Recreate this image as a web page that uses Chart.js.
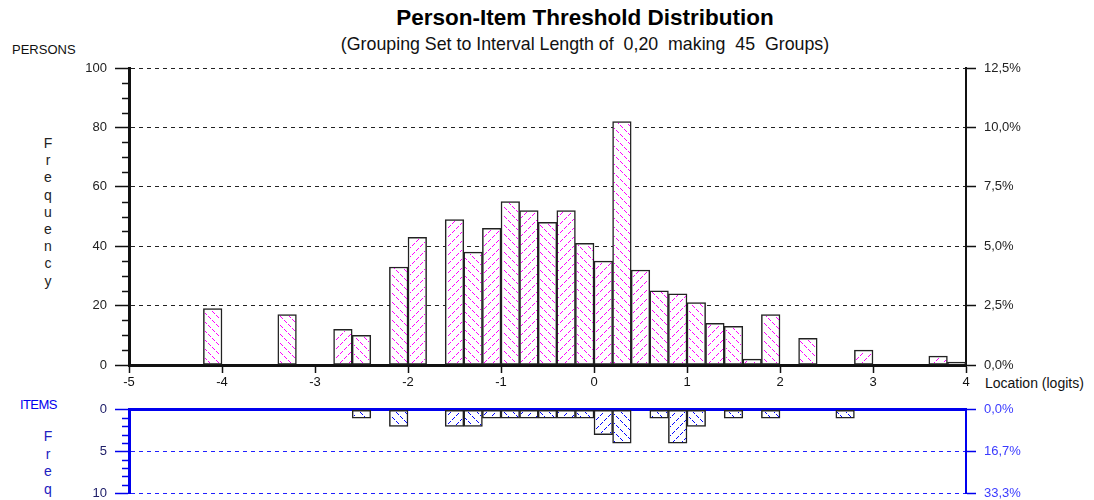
<!DOCTYPE html>
<html>
<head>
<meta charset="utf-8">
<script src="https://cdn.jsdelivr.net/npm/chart.js@4.4.1/dist/chart.umd.min.js"></script>
<style>
  body { margin: 0; width: 1094px; height: 500px; overflow: hidden; position: relative; background: #fff;
         font-family: 'Liberation Sans', Arial, sans-serif; }
  .lbl { position: absolute; white-space: pre; }
  canvas { position: absolute; left: 0; }
</style>
</head>
<body>
<div class="lbl" style="left:185px;width:800px;text-align:center;top:5px;font-weight:bold;font-size:22.5px;color:#000">Person-Item Threshold Distribution</div>
<div class="lbl" style="left:185px;width:800px;text-align:center;top:34px;font-size:17.8px;color:#111">(Grouping Set to Interval Length of  0,20  making  45  Groups)</div>
<div class="lbl" style="left:12px;top:42px;font-size:13px;color:#111">PERSONS</div>
<div class="lbl" style="left:40px;width:16px;text-align:center;top:135px;font-size:14px;line-height:17.2px;color:#222">F<br>r<br>e<br>q<br>u<br>e<br>n<br>c<br>y</div>
<div class="lbl" style="left:985px;top:375px;font-size:14px;color:#111">Location (logits)</div>
<div class="lbl" style="left:20px;top:397px;font-size:13px;color:#0000ee;letter-spacing:-0.6px">ITEMS</div>
<div class="lbl" style="left:40px;width:16px;text-align:center;top:428px;font-size:14px;line-height:17.5px;color:#2020c0">F<br>r<br>e<br>q</div>

<canvas id="persons" width="1094" height="400" style="top:0"></canvas>
<canvas id="items" width="1094" height="115" style="top:394px"></canvas>

<script>
// 45 groups of 0.2 logits, labelled by lower bound
const binStarts = ['-5.0','-4.8','-4.6','-4.4','-4.2','-4.0','-3.8','-3.6','-3.4','-3.2',
                   '-3.0','-2.8','-2.6','-2.4','-2.2','-2.0','-1.8','-1.6','-1.4','-1.2',
                   '-1.0','-0.8','-0.6','-0.4','-0.2','0.0','0.2','0.4','0.6','0.8',
                   '1.0','1.2','1.4','1.6','1.8','2.0','2.2','2.4','2.6','2.8',
                   '3.0','3.2','3.4','3.6','3.8'];

const personsFreq = [0,0,0,0,19,0,0,0,17,0, 0,12,10,0,33,43,0,49,38,46,
                     55,52,48,52,41,35,82,32,25,24, 21,14,13,2,17,0,9,0,0,5,
                     0,0,0,3,1];
const itemsFreq = [0,0,0,0,0,0,0,0,0,0, 0,0,1,0,2,0,0,2,2,1,
                   1,1,1,1,1,3,4,0,1,4, 2,0,1,0,1,0,0,0,1,0,
                   0,0,0,0,0];

const personsTotal = 800;
const itemsTotal = 30;
const logitTicks = [-5, -4, -3, -2, -1, 0, 1, 2, 3, 4];
const personsMinor = [5,10,15,25,30,35,45,50,55,65,70,75,85,90,95];
const itemsMinor = [1,2,3,4,6,7,8,9];

Chart.defaults.font.family = "'Liberation Sans', Arial, sans-serif";
Chart.defaults.font.size = 13;
Chart.defaults.animation = false;

const pct = v => v.toFixed(1).replace('.', ',') + '%';

// short minor tick marks on the left axis
const minorTicks = {
    id: 'minorTicks',
    afterDraw(chart, args, opts) {
        const sc = chart.scales.y;
        const ctx = chart.ctx;
        const x = chart.chartArea.left;
        ctx.save();
        ctx.strokeStyle = opts.color;
        ctx.lineWidth = 1.5;
        opts.values.forEach(v => {
            const y = Math.round(sc.getPixelForValue(v)) + 0.5;
            ctx.beginPath();
            ctx.moveTo(x - 7, y);
            ctx.lineTo(x, y);
            ctx.stroke();
        });
        ctx.restore();
    }
};

// crisp dashed diagonal hatching inside each bar, direction alternating per group
const hatchBars = {
    id: 'hatchBars',
    afterDatasetsDraw(chart, args, opts) {
        const ctx = chart.ctx;
        const step = 9;
        const meta = chart.getDatasetMeta(0);
        ctx.save();
        ctx.fillStyle = opts.color;
        ctx.beginPath();
        meta.data.forEach((bar, i) => {
            if (meta._parsed[i] == null || meta._parsed[i].y == null) return;
            const p = bar.getProps(['x', 'y', 'base', 'width'], true);
            const l = Math.ceil(p.x - p.width / 2 + 1), r = Math.floor(p.x + p.width / 2 - 1);
            const t = Math.ceil(Math.min(p.y, p.base) + 1), b = Math.floor(Math.max(p.y, p.base) - 1);
            for (let y = t; y < b; y++) {
                for (let x = l; x < r; x++) {
                    const k = i % 2 === 0 ? y - x : y + x;
                    if (((k % step) + step) % step !== 0) continue;
                    if (x % 4 === 3) continue;
                    ctx.rect(x, y, 1, 1);
                }
            }
        });
        ctx.fill();
        ctx.restore();
    }
};

function barSet(values) {
    return {
        data: values.map(v => v === 0 ? null : v),
        backgroundColor: '#fff',
        borderColor: '#222',
        borderWidth: 1.5,
        borderSkipped: false,
        barPercentage: 1,
        categoryPercentage: 1
    };
}

new Chart(document.getElementById('persons'), {
    type: 'bar',
    data: { labels: binStarts, datasets: [barSet(personsFreq)] },
    plugins: [minorTicks, hatchBars],
    options: {
        responsive: false,
        layout: { padding: { top: 68, left: 0, right: 0, bottom: 0 } },
        plugins: {
            legend: { display: false },
            tooltip: { enabled: false },
            minorTicks: { values: personsMinor, color: '#111' },
            hatchBars: { color: '#ff00ff' }
        },
        scales: {
            x: { display: false },
            x2: {
                type: 'linear', position: 'bottom', min: -5, max: 4, offset: false,
                afterFit: s => { s.height = 35; },
                afterBuildTicks: s => { s.ticks = logitTicks.map(v => ({ value: v })); },
                ticks: { color: '#111', padding: 2 },
                grid: { offset: false, drawOnChartArea: false, drawTicks: true, tickLength: 8, tickColor: '#111', tickWidth: 1.5 },
                border: { display: true, color: '#111', width: 3 }
            },
            y: {
                position: 'left', min: 0, max: 100,
                afterFit: s => { s.width = 129; },
                ticks: { stepSize: 20, color: '#222', padding: 8 },
                grid: { color: '#222', lineWidth: 1, tickLength: 14, tickColor: '#111', tickWidth: 1.5 },
                border: { display: true, color: '#111', width: 3, dash: [4, 4] }
            },
            y2: {
                position: 'right', min: 0, max: 100 * 100 / personsTotal,
                afterFit: s => { s.width = 128; },
                ticks: { stepSize: 2.5, color: '#222', padding: 8, callback: v => pct(v) },
                grid: { drawOnChartArea: false, tickLength: 10, tickColor: '#111', tickWidth: 1.5 },
                border: { display: true, color: '#111', width: 2 }
            }
        }
    }
});

new Chart(document.getElementById('items'), {
    type: 'bar',
    data: { labels: binStarts, datasets: [barSet(itemsFreq)] },
    plugins: [minorTicks, hatchBars],
    options: {
        responsive: false,
        layout: { padding: { top: 0, left: 0, right: 0, bottom: 16 } },
        plugins: {
            legend: { display: false },
            tooltip: { enabled: false },
            minorTicks: { values: itemsMinor, color: '#0000ee' },
            hatchBars: { color: '#0000ff' }
        },
        scales: {
            x: {
                position: 'top',
                afterFit: s => { s.height = 12; },
                ticks: { display: false },
                grid: { display: false },
                border: { display: true, color: '#0000ee', width: 3 }
            },
            y: {
                position: 'left', reverse: true, min: 0, max: 10,
                afterFit: s => { s.width = 129; },
                ticks: { stepSize: 5, color: '#20206a', padding: 8 },
                grid: { color: '#2020ff', lineWidth: 1, tickLength: 14, tickColor: '#0000ee', tickWidth: 1.5 },
                border: { display: true, color: '#0000ee', width: 3, dash: [4, 4] }
            },
            y2: {
                position: 'right', reverse: true, min: 0, max: 100 * 10 / itemsTotal,
                afterFit: s => { s.width = 128; },
                afterBuildTicks: s => { s.ticks = [0, 5, 10].map(v => ({ value: 100 * v / itemsTotal })); },
                ticks: { color: '#3a3aff', padding: 8, callback: v => pct(v) },
                grid: { drawOnChartArea: false, tickLength: 10, tickColor: '#0000ee', tickWidth: 1.5 },
                border: { display: true, color: '#0000ee', width: 2 }
            }
        }
    }
});
</script>
</body>
</html>
